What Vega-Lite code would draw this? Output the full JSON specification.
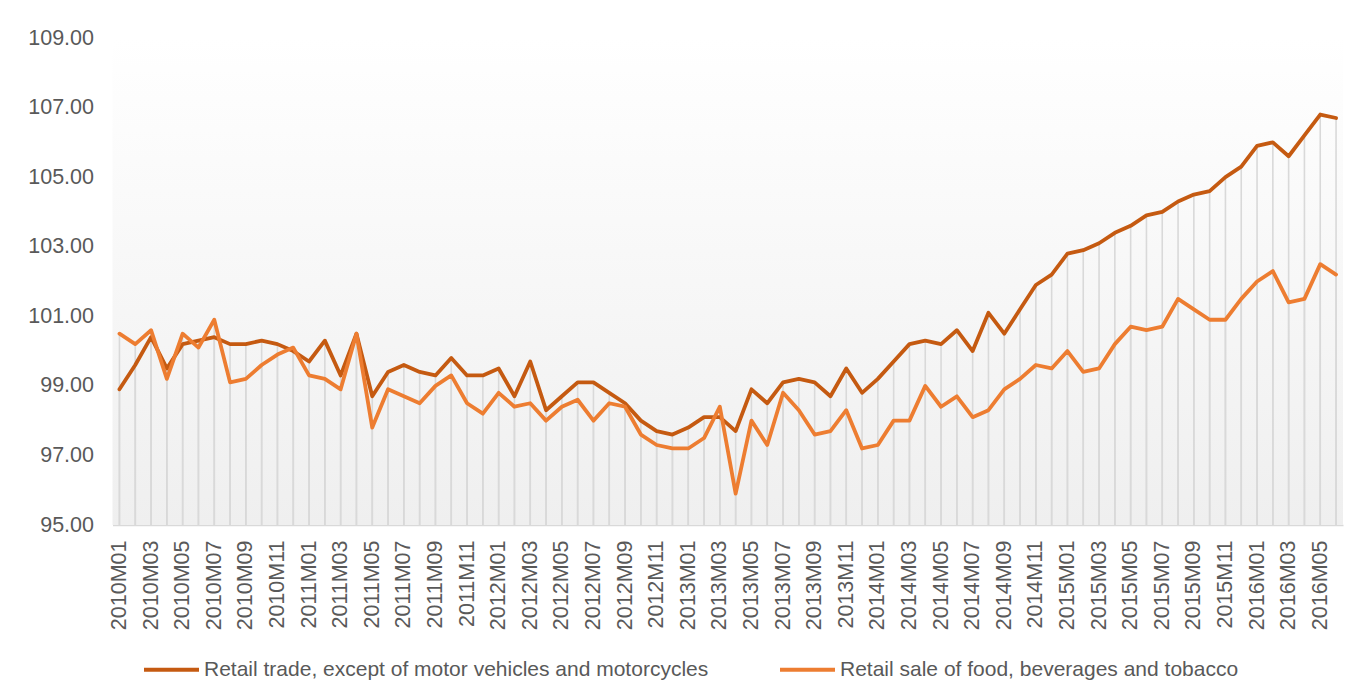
{
  "$schema": "https://vega.github.io/schema/vega-lite/v6.json",
  "width": 1230.5,
  "height": 487,
  "autosize": {"type": "none"},
  "padding": {"left": 112.5, "top": 38, "right": 28, "bottom": 173},
  "background": "#ffffff",
  "config": {
    "view": {"stroke": null},
    "font": "Liberation Sans",
    "axis": {"labelFont": "Liberation Sans", "labelColor": "#595959"},
    "legend": {"labelFont": "Liberation Sans"}
  },
  "datasets": {
    "retail": [
      {"m": "2010M01", "trade": 98.9, "food": 100.5},
      {"m": "2010M02", "trade": 99.6, "food": 100.2},
      {"m": "2010M03", "trade": 100.4, "food": 100.6},
      {"m": "2010M04", "trade": 99.5, "food": 99.2},
      {"m": "2010M05", "trade": 100.2, "food": 100.5},
      {"m": "2010M06", "trade": 100.3, "food": 100.1},
      {"m": "2010M07", "trade": 100.4, "food": 100.9},
      {"m": "2010M08", "trade": 100.2, "food": 99.1},
      {"m": "2010M09", "trade": 100.2, "food": 99.2},
      {"m": "2010M10", "trade": 100.3, "food": 99.6},
      {"m": "2010M11", "trade": 100.2, "food": 99.9},
      {"m": "2010M12", "trade": 100.0, "food": 100.1},
      {"m": "2011M01", "trade": 99.7, "food": 99.3},
      {"m": "2011M02", "trade": 100.3, "food": 99.2},
      {"m": "2011M03", "trade": 99.3, "food": 98.9},
      {"m": "2011M04", "trade": 100.5, "food": 100.5},
      {"m": "2011M05", "trade": 98.7, "food": 97.8},
      {"m": "2011M06", "trade": 99.4, "food": 98.9},
      {"m": "2011M07", "trade": 99.6, "food": 98.7},
      {"m": "2011M08", "trade": 99.4, "food": 98.5},
      {"m": "2011M09", "trade": 99.3, "food": 99.0},
      {"m": "2011M10", "trade": 99.8, "food": 99.3},
      {"m": "2011M11", "trade": 99.3, "food": 98.5},
      {"m": "2011M12", "trade": 99.3, "food": 98.2},
      {"m": "2012M01", "trade": 99.5, "food": 98.8},
      {"m": "2012M02", "trade": 98.7, "food": 98.4},
      {"m": "2012M03", "trade": 99.7, "food": 98.5},
      {"m": "2012M04", "trade": 98.3, "food": 98.0},
      {"m": "2012M05", "trade": 98.7, "food": 98.4},
      {"m": "2012M06", "trade": 99.1, "food": 98.6},
      {"m": "2012M07", "trade": 99.1, "food": 98.0},
      {"m": "2012M08", "trade": 98.8, "food": 98.5},
      {"m": "2012M09", "trade": 98.5, "food": 98.4},
      {"m": "2012M10", "trade": 98.0, "food": 97.6},
      {"m": "2012M11", "trade": 97.7, "food": 97.3},
      {"m": "2012M12", "trade": 97.6, "food": 97.2},
      {"m": "2013M01", "trade": 97.8, "food": 97.2},
      {"m": "2013M02", "trade": 98.1, "food": 97.5},
      {"m": "2013M03", "trade": 98.1, "food": 98.4},
      {"m": "2013M04", "trade": 97.7, "food": 95.9},
      {"m": "2013M05", "trade": 98.9, "food": 98.0},
      {"m": "2013M06", "trade": 98.5, "food": 97.3},
      {"m": "2013M07", "trade": 99.1, "food": 98.8},
      {"m": "2013M08", "trade": 99.2, "food": 98.3},
      {"m": "2013M09", "trade": 99.1, "food": 97.6},
      {"m": "2013M10", "trade": 98.7, "food": 97.7},
      {"m": "2013M11", "trade": 99.5, "food": 98.3},
      {"m": "2013M12", "trade": 98.8, "food": 97.2},
      {"m": "2014M01", "trade": 99.2, "food": 97.3},
      {"m": "2014M02", "trade": 99.7, "food": 98.0},
      {"m": "2014M03", "trade": 100.2, "food": 98.0},
      {"m": "2014M04", "trade": 100.3, "food": 99.0},
      {"m": "2014M05", "trade": 100.2, "food": 98.4},
      {"m": "2014M06", "trade": 100.6, "food": 98.7},
      {"m": "2014M07", "trade": 100.0, "food": 98.1},
      {"m": "2014M08", "trade": 101.1, "food": 98.3},
      {"m": "2014M09", "trade": 100.5, "food": 98.9},
      {"m": "2014M10", "trade": 101.2, "food": 99.2},
      {"m": "2014M11", "trade": 101.9, "food": 99.6},
      {"m": "2014M12", "trade": 102.2, "food": 99.5},
      {"m": "2015M01", "trade": 102.8, "food": 100.0},
      {"m": "2015M02", "trade": 102.9, "food": 99.4},
      {"m": "2015M03", "trade": 103.1, "food": 99.5},
      {"m": "2015M04", "trade": 103.4, "food": 100.2},
      {"m": "2015M05", "trade": 103.6, "food": 100.7},
      {"m": "2015M06", "trade": 103.9, "food": 100.6},
      {"m": "2015M07", "trade": 104.0, "food": 100.7},
      {"m": "2015M08", "trade": 104.3, "food": 101.5},
      {"m": "2015M09", "trade": 104.5, "food": 101.2},
      {"m": "2015M10", "trade": 104.6, "food": 100.9},
      {"m": "2015M11", "trade": 105.0, "food": 100.9},
      {"m": "2015M12", "trade": 105.3, "food": 101.5},
      {"m": "2016M01", "trade": 105.9, "food": 102.0},
      {"m": "2016M02", "trade": 106.0, "food": 102.3},
      {"m": "2016M03", "trade": 105.6, "food": 101.4},
      {"m": "2016M04", "trade": 106.2, "food": 101.5},
      {"m": "2016M05", "trade": 106.8, "food": 102.5},
      {"m": "2016M06", "trade": 106.7, "food": 102.2}
    ]
  },
  "layer": [
    {
      "data": {"values": [{"bg": 1}]},
      "mark": {
        "type": "rect",
        "color": {
          "gradient": "linear",
          "x1": 0, "y1": 0, "x2": 0, "y2": 1,
          "stops": [
            {"offset": 0, "color": "#ffffff"},
            {"offset": 1, "color": "#efefef"}
          ]
        }
      },
      "encoding": {
        "y": {"datum": 109, "type": "quantitative", "scale": {"domain": [95, 109], "nice": false, "zero": false}},
        "y2": {"datum": 95}
      }
    },
    {
      "data": {"name": "retail"},
      "transform": [{"fold": ["trade", "food"], "as": ["series", "value"]}],
      "mark": {"type": "rule", "color": "#d9d9d9", "strokeWidth": 1.6},
      "encoding": {
        "x": {"field": "m", "type": "ordinal"},
        "y": {"field": "value", "type": "quantitative"},
        "y2": {"datum": 95}
      }
    },
    {
      "data": {"name": "retail"},
      "transform": [{"fold": ["trade", "food"], "as": ["series", "value"]}],
      "mark": {"type": "line", "strokeWidth": 3.8, "strokeJoin": "round", "strokeCap": "round"},
      "encoding": {
        "x": {
          "field": "m",
          "type": "ordinal",
          "scale": {"type": "point", "padding": 0.44},
          "axis": {
            "title": null,
            "labelAngle": -90,
            "labelFontSize": 21.5,
            "labelPadding": 15,
            "labelOverlap": false,
            "labelBound": false,
            "labelExpr": "toNumber(slice(datum.value, 5)) % 2 == 1 ? datum.value : ''",
            "ticks": false,
            "grid": false,
            "domain": true,
            "domainColor": "#d9d9d9",
            "domainWidth": 1.6
          }
        },
        "y": {
          "field": "value",
          "type": "quantitative",
          "scale": {"domain": [95, 109], "nice": false, "zero": false},
          "axis": {
            "title": null,
            "values": [95, 97, 99, 101, 103, 105, 107, 109],
            "format": ".2f",
            "labelFontSize": 21.5,
            "labelPadding": 19,
            "ticks": false,
            "domain": false,
            "grid": false
          }
        },
        "color": {
          "field": "series",
          "type": "nominal",
          "sort": ["trade", "food"],
          "scale": {"domain": ["trade", "food"], "range": ["#c55a11", "#ed7d31"]},
          "legend": {
            "title": null,
            "orient": "none",
            "legendX": 29.5,
            "legendY": 602,
            "direction": "horizontal",
            "symbolType": "stroke",
            "symbolSize": 3025,
            "symbolStrokeWidth": 4,
            "labelFontSize": 21,
            "labelColor": "#595959",
            "labelOffset": 3,
            "labelLimit": 1000,
            "columnPadding": 63,
            "labelExpr": "datum.value == 'trade' ? 'Retail trade, except of motor vehicles and motorcycles' : 'Retail sale of food, beverages and tobacco'"
          }
        }
      }
    }
  ]
}
